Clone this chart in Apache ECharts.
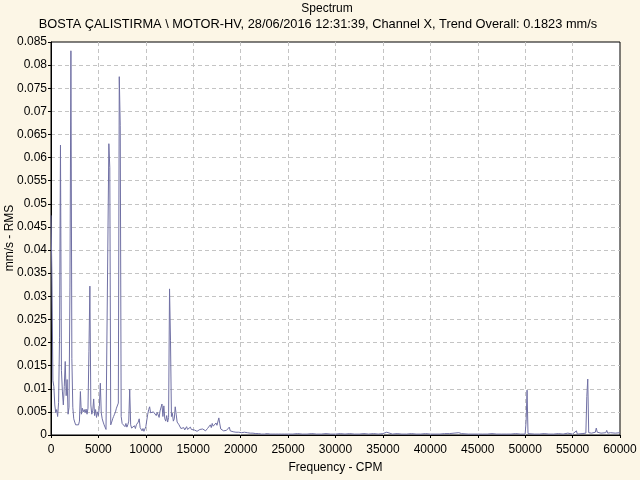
<!DOCTYPE html>
<html>
<head>
<meta charset="utf-8">
<script src="https://cdn.jsdelivr.net/npm/echarts@6/dist/echarts.min.js"></script>
<style>
html,body{margin:0;padding:0;background:#FCF6E6;}
#c{width:640px;height:480px;}
</style>
</head>
<body>
<div id="c"></div>
<script>
// Spectrum resolution of the dense part (CPM per line)
const lowStep = 100;
// Amplitudes 0..25000 CPM, one per 100 CPM (mm/s RMS)
const lowAmps = [
0.0475,0.034,0.0118,0.0105,0.0065,0.0048,0.0055,0.004,0.007,0.021,
0.0627,0.014,0.0095,0.0065,0.0105,0.0159,0.0085,0.012,0.0045,0.006,
0.032,0.0831,0.0165,0.006,0.0035,0.0028,0.0022,0.002,0.0025,0.0022,
0.003,0.0094,0.0045,0.0058,0.005,0.0055,0.0048,0.0056,0.0045,0.0058,
0.018,0.0322,0.0065,0.0045,0.0052,0.0078,0.0042,0.0055,0.0038,0.005,
0.0042,0.0062,0.0112,0.0048,0.0035,0.0028,0.0022,0.0018,0.0012,0.001,
0.0015,0.063,0.0578,0.0022,0.0028,0.0035,0.004,0.0045,0.005,0.0058,
0.0062,0.0069,0.0775,0.067,0.004,0.0025,0.0022,0.0028,0.0018,0.0025,
0.0017,0.0022,0.003,0.0099,0.0022,0.0015,0.0018,0.0012,0.002,0.0014,
0.0022,0.0018,0.0028,0.0035,0.0016,0.0012,0.0009,0.0014,0.0008,0.0012,
0.0018,0.0032,0.0045,0.0055,0.0061,0.0048,0.0052,0.0044,0.005,0.0046,
0.0053,0.0042,0.0049,0.0045,0.0038,0.0052,0.0048,0.0067,0.004,0.0063,
0.0035,0.003,0.0042,0.0028,0.0038,0.0316,0.0205,0.004,0.0047,0.003,
0.0035,0.0061,0.0045,0.0028,0.0032,0.0022,0.0019,0.0014,0.0018,0.0013,
0.0016,0.0011,0.0014,0.0018,0.0012,0.0015,0.0011,0.0017,0.0012,0.0014,
0.0009,0.0011,0.001,0.0013,0.0008,0.0011,0.001,0.0012,0.0009,0.0011,
0.0013,0.001,0.0012,0.0009,0.0011,0.0014,0.0012,0.0018,0.0022,0.0016,
0.0025,0.0019,0.0023,0.0017,0.0026,0.0021,0.0019,0.0037,0.0024,0.0013,
0.0011,0.0012,0.0009,0.0011,0.0009,0.001,0.0012,0.0011,0.0017,0.0009,
0.0008,0.0009,0.0007,0.0008,0.0007,0.0006,0.0008,0.0007,0.0006,0.0007,
0.0006,0.0005,0.0006,0.0005,0.0006,0.0005,0.0004,0.0005,0.0004,0.0005,
0.0004,0.0004,0.0003,0.0004,0.0003,0.0004,0.0003,0.0003,0.0004,0.0003,
0.0002,0.0003,0.0002,0.0003,0.0004,0.0002,0.0003,0.0002,0.0003,0.0002,
0.0003,0.0002,0.0002,0.0003,0.0002,0.0003,0.0002,0.0002,0.0003,0.0002,
0.0002,0.0003,0.0002,0.0002,0.0003,0.0002,0.0002,0.0003,0.0002,0.0002,
0.0003
];
// Sparse high-frequency part
const highFreq = [25500,26000,26500,27000,27500,28000,28500,29000,29500,30000,
30500,31000,31500,32000,32500,33000,33500,34000,34500,35000,35400,35600,36000,36500,
37000,37500,38000,38500,39000,39500,40000,40500,41000,41500,42000,42500,43000,43300,
43500,44000,44500,45000,45500,46000,46500,47000,47500,48000,48500,49000,49500,50000,
50100,50200,50300,50500,51000,51500,52000,52500,53000,53500,54000,54500,55000,55400,
55500,56000,56400,56500,56600,56700,57000,57400,57500,57600,58000,58500,58600,58700,
59000,59500,60000];
const highAmps = [0.0002,0.0003,0.0002,0.0002,0.0003,0.0002,0.0002,0.0003,0.0002,0.0002,
0.0003,0.0002,0.0003,0.0002,0.0002,0.0003,0.0002,0.0003,0.0002,0.0003,0.0006,0.0002,0.0002,0.0003,
0.0002,0.0002,0.0003,0.0002,0.0002,0.0003,0.0002,0.0002,0.0002,0.0003,0.0003,0.0004,0.0005,0.0003,
0.0004,0.0002,0.0002,0.0002,0.0002,0.0002,0.0003,0.0002,0.0002,0.0002,0.0002,0.0003,0.0002,0.0002,
0.003,0.0097,0.0003,0.0002,0.0002,0.0002,0.0003,0.0002,0.0002,0.0003,0.0002,0.0004,0.0002,0.0009,
0.0002,0.0003,0.0004,0.0083,0.0121,0.0005,0.0004,0.0006,0.0015,0.0006,0.0004,0.0005,0.001,0.0004,
0.0005,0.0004,0.0005];

const titleText = 'Spectrum';
const subText = 'BOSTA ÇALISTIRMA \\ MOTOR-HV, 28/06/2016 12:31:39, Channel X, Trend Overall: 0.1823 mm/s';
const yName = 'mm/s - RMS';
const xName = 'Frequency - CPM';

const data = [];
lowAmps.forEach((v, i) => data.push([i * lowStep, v]));
highFreq.forEach((f, i) => data.push([f, highAmps[i]]));

const font = 'Liberation Sans, Arial, sans-serif';
const chart = echarts.init(document.getElementById('c'), null, {renderer: 'canvas'});
chart.setOption({
  animation: false,
  backgroundColor: '#FCF6E6',
  textStyle: {fontFamily: font},
  graphic: [
    {type: 'text', x: 327, y: 3, style: {text: titleText, font: '12px ' + font, fill: '#000', align: 'center'}},
    {type: 'text', x: 318, y: 18, style: {text: subText, font: '12.8px ' + font, fill: '#000', align: 'center'}},
    {type: 'text', x: 10, y: 238, rotation: Math.PI / 2,
      style: {text: yName, font: '12px ' + font, fill: '#000', align: 'center', verticalAlign: 'middle'}}
  ],
  grid: {left: 51, right: 20, top: 42, bottom: 45, containLabel: false, outerBoundsMode: 'none',
    show: true, backgroundColor: '#fff', borderColor: '#000', borderWidth: 1},
  xAxis: {
    type: 'value', min: 0, max: 60000, interval: 5000,
    name: xName, nameLocation: 'middle', nameGap: 27,
    nameTextStyle: {fontSize: 12, color: '#000', fontFamily: font},
    axisLine: {show: true, lineStyle: {color: '#000', width: 1}},
    axisTick: {show: true, length: 3, lineStyle: {color: '#000'}},
    axisLabel: {color: '#000', fontSize: 12, margin: 9, fontFamily: font,
      formatter: v => String(Math.round(v))},
    splitLine: {show: true, showMinLine: false, showMaxLine: false,
      lineStyle: {color: '#C4C4C4', type: [4, 3], width: 1}}
  },
  yAxis: {
    type: 'value', min: 0, max: 0.085, interval: 0.005,
    axisLine: {show: true, lineStyle: {color: '#000', width: 1}},
    axisTick: {show: true, length: 3, lineStyle: {color: '#000'}},
    axisLabel: {color: '#000', fontSize: 12, margin: 4, fontFamily: font,
      formatter: v => String(+v.toFixed(3))},
    splitLine: {show: true, showMinLine: false, showMaxLine: false,
      lineStyle: {color: '#C4C4C4', type: [4, 3], width: 1}}
  },
  series: [{
    type: 'line', data: data, showSymbol: false, symbol: 'none',
    lineStyle: {color: '#7070A4', width: 1},
    sampling: null, clip: true
  }]
});
</script>
</body>
</html>
